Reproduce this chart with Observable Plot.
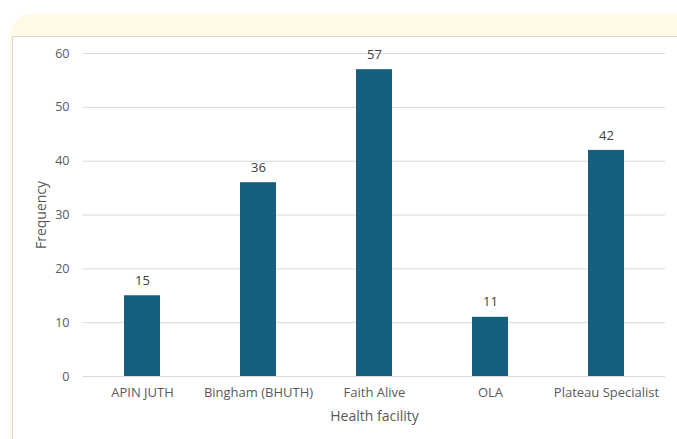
<!DOCTYPE html>
<html>
<head>
<meta charset="utf-8">
<script src="https://cdn.jsdelivr.net/npm/d3@7"></script>
<script src="https://cdn.jsdelivr.net/npm/@observablehq/plot@0.6"></script>
<style>
  html, body { margin: 0; padding: 0; background: #fff; }
  #wrap { position: relative; width: 677px; height: 439px; overflow: hidden; font-family: "Open Sans", "Liberation Sans", sans-serif; }
  #band { position: absolute; left: 10px; top: 14px; width: 700px; height: 500px; background: #FFF9E6; border-radius: 22px 22px 0 0; }
  #box { position: absolute; left: 12px; top: 36px; width: 700px; height: 500px; background: #fff; border-top: 1px solid #D9D9D9; border-left: 1px solid #D9D9D9; }
  #chart { position: absolute; left: 0; top: 0; }
</style>
</head>
<body>
<div id="wrap">
  <div id="band"></div>
  <div id="box"></div>
  <div id="chart"></div>
</div>
<script>
const facilities = ["APIN JUTH", "Bingham (BHUTH)", "Faith Alive", "OLA", "Plateau Specialist"];
const frequencies = [15, 36, 57, 11, 42];
const yTicks = [0, 10, 20, 30, 40, 50, 60];

const data = facilities.map((f, i) => ({facility: f, value: frequencies[i]}));

const chart = Plot.plot({
  width: 677,
  height: 439,
  marginLeft: 83,
  marginRight: 12,
  marginTop: 53,
  marginBottom: 63,
  style: {background: "transparent", fontFamily: "'Open Sans', 'Liberation Sans', sans-serif", fontSize: "12px", color: "#595959"},
  x: {domain: facilities, paddingInner: 0.69, paddingOuter: 0.345, label: null},
  y: {domain: [0, 60], label: null},
  marks: [
    Plot.ruleY(yTicks, {stroke: "#D9D9D9", strokeWidth: 1}),
    Plot.barY(data, {x: "facility", y: "value", fill: "#16607F", inset: 0}),
    Plot.text(data, {x: "facility", y: "value", text: d => String(d.value), dy: -15, fill: "#404040", fontSize: 13}),
    Plot.axisY({ticks: yTicks, tickSize: 0, tickPadding: 14, fill: "#595959", fontSize: 12.5, label: null}),
    Plot.axisX({tickSize: 0, tickPadding: 11, fill: "#595959", fontSize: 13, label: null}),
    Plot.text(["Health facility"], {frameAnchor: "bottom", lineAnchor: "middle", dy: 40, fill: "#595959", fontSize: 14}),
    Plot.text(["Frequency"], {frameAnchor: "left", textAnchor: "middle", lineAnchor: "middle", dx: -42, rotate: -90, fill: "#595959", fontSize: 14})
  ]
});
document.getElementById("chart").appendChild(chart);
</script>
</body>
</html>
